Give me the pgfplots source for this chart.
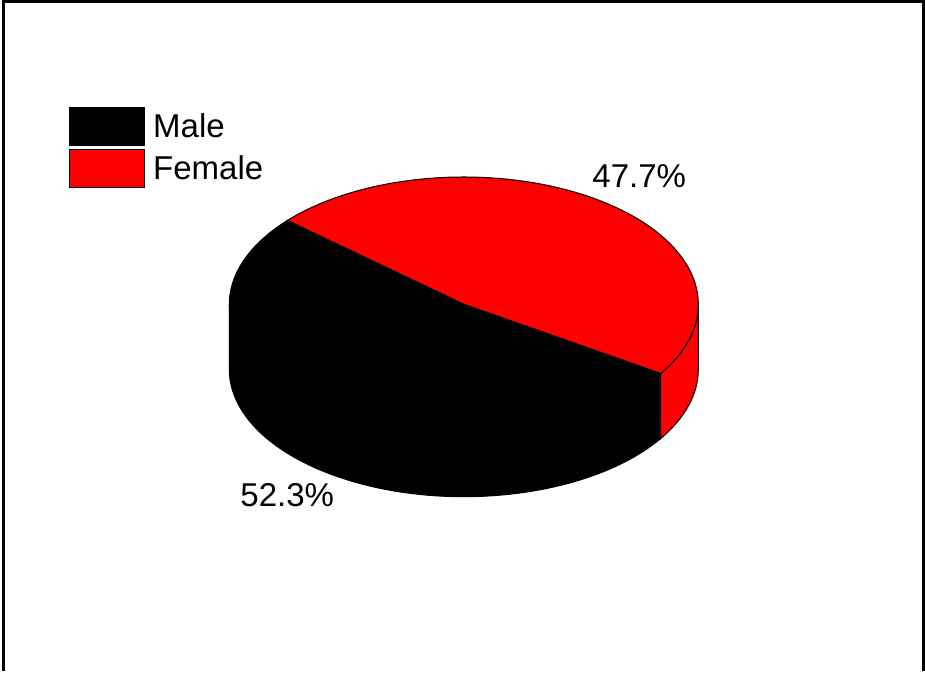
\documentclass[border=0pt]{standalone}
\usepackage{pgfplots}
\pgfplotsset{compat=1.18}
\usepackage{fontspec}
\setmainfont{Liberation Sans}
\begin{document}
\begin{tikzpicture}
% data (percent)
\def\male{52.3}
\def\female{47.7}
% pie geometry (pixel units, y up)
\pgfmathsetmacro{\tA}{-32.9}
\pgfmathsetmacro{\tB}{\tA+3.6*\female}
\pgfmathsetmacro{\tC}{\tA+360}
\def\cx{463.8}
\def\cy{366.65}
\def\ra{234.5}
\def\rb{127.35}
\begin{axis}[
  x=0.5pt, y=0.5pt, xmin=0, xmax=925, ymin=0, ymax=671,
  hide axis, clip=false, samples=150,
  legend image code/.code={\draw[#1] (0pt,-9.5pt) rectangle (37.5pt,9.5pt); \path (41.5pt,0pt);},
  legend style={at={(axis cs:69,564)}, anchor=north west, draw=none, fill=none,
    inner sep=0pt, row sep=1.5pt, font=\fontsize{16.5}{19.8}\selectfont,
    cells={anchor=west}, nodes={inner sep=0pt}},
]
\path (axis cs:0,0) rectangle (axis cs:925,671);
% frame
\draw[line width=1.5pt] (axis cs:3,0) -- (axis cs:3,669) -- (axis cs:923,669) -- (axis cs:923,0);
% legend
\addlegendimage{fill=black, draw=black, line width=0.4pt}
\addlegendentry{Male}
\addlegendimage{fill=red, draw=black, line width=0.4pt}
\addlegendentry{Female}
% male side wall
\addplot[fill=black, draw=black, line width=0.5pt, domain=180:\tC, forget plot]
  ({\cx+\ra*cos(x)},{\cy+\rb*sin(x)}) -- ++(0pt,-32.5pt)
  arc[start angle=\tC, end angle=180, x radius=117.25pt, y radius=63.675pt] -- cycle;
% female side wall
\addplot[fill=red, draw=black, line width=0.5pt, domain=\tC:360, forget plot]
  ({\cx+\ra*cos(x)},{\cy+\rb*sin(x)}) -- ++(0pt,-32.5pt)
  arc[start angle=360, end angle=\tC, x radius=117.25pt, y radius=63.675pt] -- cycle;
% female top
\addplot[fill=red, draw=black, line width=0.5pt, domain=\tA:\tB, forget plot]
  ({\cx+\ra*cos(x)},{\cy+\rb*sin(x)}) -- (axis cs:\cx,\cy) -- cycle;
% male top
\addplot[fill=black, draw=black, line width=0.5pt, domain=\tB:\tC, forget plot]
  ({\cx+\ra*cos(x)},{\cy+\rb*sin(x)}) -- (axis cs:\cx,\cy) -- cycle;
% labels
\node[anchor=base west, inner sep=0pt, font=\fontsize{16.5}{19.8}\selectfont] at (axis cs:592,483) {47.7\%};
\node[anchor=base west, inner sep=0pt, font=\fontsize{16.5}{19.8}\selectfont] at (axis cs:240,164) {52.3\%};
\end{axis}
\end{tikzpicture}
\end{document}
